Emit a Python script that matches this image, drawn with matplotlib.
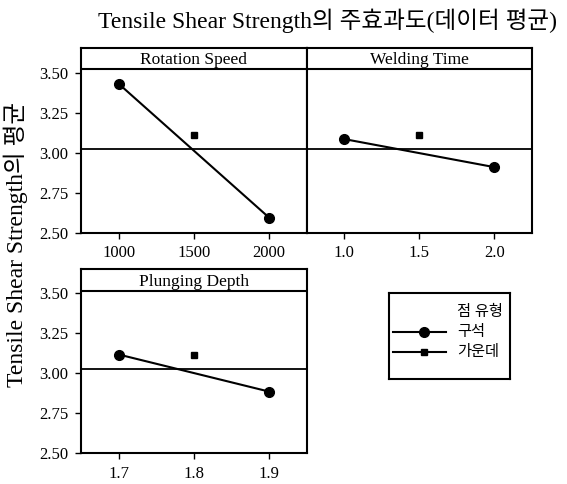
import matplotlib
matplotlib.use('Agg')
import matplotlib.pyplot as plt

plt.rcParams['font.family'] = ['Liberation Serif', 'Noto Sans CJK KR']
plt.rcParams['axes.unicode_minus'] = False

# data
factors = ['Rotation Speed', 'Welding Time', 'Plunging Depth']
corner_x = [[1000, 2000], [1.0, 2.0], [1.7, 1.9]]
corner_y = [[3.435, 2.595], [3.088, 2.912], [3.116, 2.884]]
center_x = [1500, 1.5, 1.8]
center_y = [3.115, 3.115, 3.110]
grand_mean = 3.025
xticks = [[1000, 1500, 2000], [1.0, 1.5, 2.0], [1.7, 1.8, 1.9]]
xticklabels = [['1000', '1500', '2000'], ['1.0', '1.5', '2.0'], ['1.7', '1.8', '1.9']]
yticks = [2.50, 2.75, 3.00, 3.25, 3.50]

fig = plt.figure(figsize=(5.67, 4.84), dpi=100)

# panel layout: [left, bottom, width, height], xlim, ylim, strip line, y labels
panels = [
    ([0.143, 0.519, 0.398, 0.382], (750, 2250), (2.50, 3.66), 3.525, True),
    ([0.541, 0.519, 0.397, 0.382], (0.75, 2.25), (2.50, 3.66), 3.525, False),
    ([0.143, 0.064, 0.398, 0.380], (1.65, 1.95), (2.50, 3.65), 3.51, True),
]

for i, (pos, xl, yl, strip, show_y) in enumerate(panels):
    ax = fig.add_axes(pos)
    ax.axhline(grand_mean, color='black', lw=1.3, zorder=1)
    ax.axhline(strip, color='black', lw=1.5, zorder=1)
    ax.plot(corner_x[i], corner_y[i], color='black', lw=1.5,
            marker='o', markersize=7, zorder=3)
    ax.plot([center_x[i]], [center_y[i]], color='black', ls='none',
            marker='s', markersize=4.5, zorder=3)
    ax.text(0.5, (strip + yl[1]) / 2 - 0.01, factors[i], ha='center', va='center',
            fontsize=12.5, transform=ax.get_yaxis_transform())
    ax.set_xlim(*xl)
    ax.set_ylim(*yl)
    ax.set_xticks(xticks[i])
    ax.set_xticklabels(xticklabels[i])
    if show_y:
        ax.set_yticks(yticks)
        ax.set_yticklabels(['%.2f' % v for v in yticks])
    else:
        ax.set_yticks([])
    ax.tick_params(axis='both', labelsize=12, length=4, width=1,
                   direction='out', pad=5)
    for s in ax.spines.values():
        s.set_linewidth(1.5)

fig.text(0.578, 0.958, 'Tensile Shear Strength의 주효과도(데이터 평균)',
         ha='center', va='center', fontsize=17)
fig.text(0.028, 0.494, 'Tensile Shear Strength의 평균', rotation=90,
         ha='center', va='center', fontsize=17)

# legend box
lax = fig.add_axes([0.686, 0.217, 0.214, 0.178])
lax.set_xlim(0, 1)
lax.set_ylim(0, 1)
lax.set_xticks([])
lax.set_yticks([])
for s in lax.spines.values():
    s.set_linewidth(1.5)
lax.text(0.56, 0.78, '점 유형', fontsize=11, va='center')
lax.plot([0.03, 0.47], [0.547, 0.547], color='black', lw=1.5)
lax.plot([0.29], [0.547], color='black', marker='o', markersize=7)
lax.plot([0.03, 0.47], [0.314, 0.314], color='black', lw=1.5)
lax.plot([0.29], [0.314], color='black', marker='s', markersize=5)
lax.text(0.56, 0.547, '구석', fontsize=11, va='center')
lax.text(0.56, 0.314, '가운데', fontsize=11, va='center')

fig.savefig('out.png', dpi=100)
